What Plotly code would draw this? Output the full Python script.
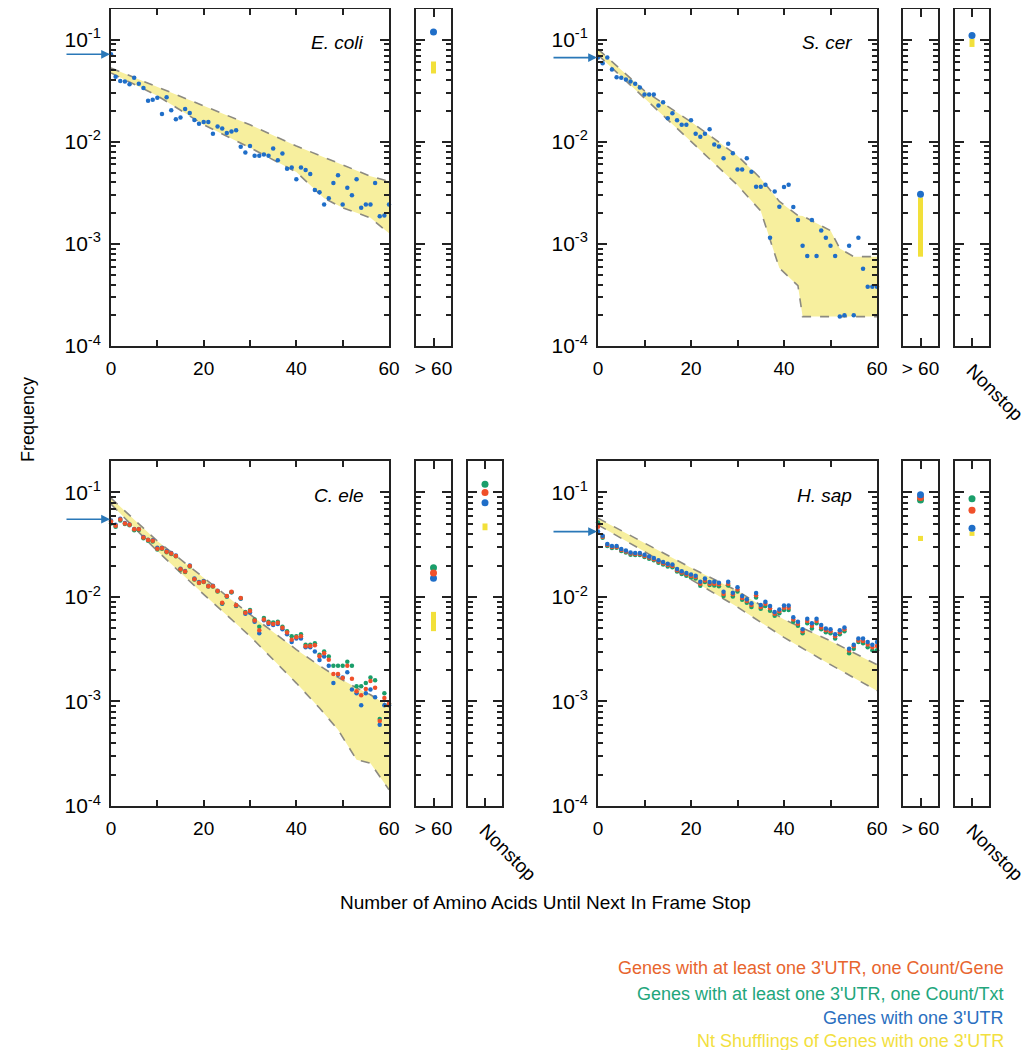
import math
import plotly.graph_objects as go

# ---------------- data ----------------
aa_len = list(range(0, 61))

ecoli_one = [0.072, 0.0434, 0.0394, 0.039, 0.0366, 0.0424, 0.037, 0.0336, 0.0252, 0.0258,
             0.027, 0.0187, 0.0273, 0.0204, 0.0166, 0.0173, 0.021, 0.0192, 0.0164, 0.015,
             0.0156, 0.0156, 0.012, 0.0141, 0.0135, 0.0122, 0.0126, 0.013, 0.00896, 0.00785,
             0.0091, 0.0073, 0.0073, 0.0075, 0.0073, 0.0086, 0.0066, 0.0077, 0.00545, 0.0056,
             0.0043, 0.0056, 0.0053, 0.00484, 0.00338, 0.0032, 0.00243, 0.0028, 0.00395, 0.0047,
             0.00243, 0.00355, 0.003, 0.0043, 0.00226, 0.00243, 0.00243, 0.00395, 0.00187, 0.0019,
             0.00243]

scer_one = [0.0668, 0.059, 0.0668, 0.051, 0.043, 0.0424, 0.0408, 0.039, 0.0371, 0.034,
            0.029, 0.029, 0.029, 0.0227, 0.0244, 0.017, 0.019, 0.0163, 0.0147, 0.0147,
            0.0163, 0.012, 0.0112, 0.012, 0.0133, 0.00944, 0.009, 0.00689, 0.0096, 0.00774,
            0.00537, 0.00537, 0.0069, 0.0051, 0.00363, 0.00363, 0.0038, 0.00115, 0.00326, 0.00231,
            0.0036, 0.0038, 0.0023, 0.00171, 0.000957, 0.00076, 0.00171, 0.00076, 0.00135, 0.00115,
            0.00096, 0.00076, 0.000194, 0.0002, 0.00096, 0.0002, 0.00115, 0.00057, 0.00038, 0.00038,
            0.00038]

cele_gene = [0.0527, 0.048, 0.055, 0.0505, 0.049, 0.0444, 0.0444, 0.037, 0.035, 0.0345,
             0.029, 0.0292, 0.0271, 0.026, 0.0247, 0.0184, 0.0175, 0.0198, 0.0148, 0.0137,
             0.014, 0.0127, 0.0127, 0.0114, 0.0088, 0.0102, 0.0112, 0.00835, 0.0098, 0.00707,
             0.00733, 0.00596, 0.0048, 0.0061, 0.00566, 0.0055, 0.00566, 0.00507, 0.00456, 0.0039,
             0.00412, 0.0042, 0.00338, 0.0034, 0.00345, 0.00271, 0.0029, 0.00251, 0.00183, 0.00183,
             0.00168, 0.0022, 0.00165, 0.00125, 0.00115, 0.00132, 0.00157, 0.00135, 0.00065, 0.00108,
             0.00095]
cele_txt = [0.0505, 0.047, 0.054, 0.05, 0.0485, 0.0435, 0.0438, 0.0365, 0.0345, 0.034,
            0.0285, 0.029, 0.0268, 0.0258, 0.0245, 0.0182, 0.0173, 0.0196, 0.0147, 0.0136,
            0.0139, 0.0126, 0.0126, 0.0113, 0.0087, 0.0101, 0.0111, 0.0083, 0.0097, 0.0072,
            0.0075, 0.0061, 0.0052, 0.0063, 0.0058, 0.0057, 0.0058, 0.0052, 0.0047, 0.0042,
            0.0042, 0.0044, 0.0035, 0.0035, 0.0036, 0.0028, 0.003, 0.0027, 0.0022, 0.0022,
            0.0022, 0.0024, 0.0022, 0.0014, 0.0014, 0.0015, 0.0017, 0.0016, 0.00068, 0.0012,
            0.00095]
cele_one = [0.054, 0.049, 0.056, 0.051, 0.0495, 0.0448, 0.0446, 0.0375, 0.0352, 0.0348,
            0.0295, 0.0296, 0.0275, 0.0263, 0.025, 0.0186, 0.0177, 0.02, 0.015, 0.0139,
            0.0142, 0.0128, 0.0128, 0.0115, 0.0086, 0.0101, 0.0111, 0.0082, 0.0096, 0.0069,
            0.0071, 0.0058, 0.0045, 0.006, 0.0055, 0.0054, 0.0055, 0.0049, 0.0044, 0.0037,
            0.004, 0.004, 0.0033, 0.0033, 0.003, 0.0025, 0.0027, 0.0022, 0.0015, 0.0018,
            0.0017, 0.0019, 0.0013, 0.0012, 0.00092, 0.0012, 0.0013, 0.0011, 0.0006, 0.00092,
            0.00092]

hsap_gene = [0.0469, 0.0376, 0.0315, 0.0301, 0.0301, 0.0282, 0.0272, 0.026, 0.0258, 0.0258,
             0.0247, 0.0238, 0.023, 0.0218, 0.021, 0.0202, 0.0198, 0.018, 0.0171, 0.0165,
             0.0159, 0.0155, 0.0134, 0.0144, 0.0134, 0.0134, 0.0132, 0.0107, 0.0134, 0.0106,
             0.0118, 0.0098, 0.00914, 0.00836, 0.0104, 0.008, 0.0086, 0.0078, 0.0069, 0.0073,
             0.0079, 0.0079, 0.0061, 0.00553, 0.00471, 0.0059, 0.0053, 0.0059, 0.0051, 0.0048,
             0.0047, 0.00422, 0.0046, 0.0049, 0.00307, 0.00338, 0.00383, 0.0038, 0.00351, 0.0033,
             0.0034]
hsap_txt = [0.0515, 0.0368, 0.0308, 0.0294, 0.0295, 0.0276, 0.0266, 0.0254, 0.0252, 0.0252,
            0.0241, 0.0232, 0.0224, 0.0212, 0.0204, 0.0196, 0.0192, 0.0175, 0.0166, 0.016,
            0.0154, 0.015, 0.0128, 0.0139, 0.013, 0.0129, 0.0127, 0.0102, 0.0129, 0.0101,
            0.0113, 0.0094, 0.0088, 0.008, 0.0099, 0.0077, 0.0082, 0.0074, 0.0066, 0.007,
            0.0075, 0.0075, 0.0058, 0.0053, 0.0045, 0.0056, 0.005, 0.0056, 0.0049, 0.0046,
            0.0045, 0.004, 0.0044, 0.0047, 0.0029, 0.0032, 0.0037, 0.0036, 0.0033, 0.0031,
            0.0031]
hsap_one = [0.0422, 0.0385, 0.0322, 0.0308, 0.0307, 0.0288, 0.0278, 0.0266, 0.0264, 0.0264,
            0.0253, 0.0244, 0.0236, 0.0224, 0.0216, 0.0208, 0.0204, 0.0185, 0.0176, 0.017,
            0.0164, 0.016, 0.014, 0.015, 0.0139, 0.014, 0.0137, 0.0112, 0.014, 0.011,
            0.0124, 0.0102, 0.0095, 0.0087, 0.0109, 0.0084, 0.009, 0.0082, 0.0072, 0.0076,
            0.0083, 0.0083, 0.0064, 0.0058, 0.0049, 0.0062, 0.0056, 0.0062, 0.0054, 0.005,
            0.0049, 0.0044, 0.0048, 0.0051, 0.0032, 0.0035, 0.004, 0.004, 0.0037, 0.0035,
            0.0037]

# shuffled band (lower / upper bounds)
ecoli_band_x = [0, 10, 20, 30, 40, 46, 50, 56, 60]
ecoli_band_lo = [0.0473, 0.0283, 0.0147, 0.00877, 0.00506, 0.0028, 0.00226, 0.0018, 0.00127]
ecoli_band_hi = [0.0528, 0.0345, 0.0226, 0.0147, 0.0091, 0.0070, 0.0059, 0.0046, 0.0041]

scer_band_x = [0, 10, 20, 30, 35, 39, 43, 44, 50, 52, 55, 60]
scer_band_lo = [0.071, 0.0269, 0.0101, 0.00376, 0.0021, 0.00058, 0.00039, 0.000194, 0.000194, 0.000194, 0.000194, 0.000194]
scer_band_hi = [0.081, 0.0316, 0.0157, 0.0073, 0.00437, 0.00261, 0.0019, 0.00188, 0.00135, 0.0009, 0.00075, 0.00075]

cele_band_x = [0, 10, 20, 30, 40, 45, 49, 53, 56, 60]
cele_band_lo = [0.0773, 0.0275, 0.0106, 0.00422, 0.0015, 0.000865, 0.000537, 0.000277, 0.000257, 0.000143]
cele_band_hi = [0.0883, 0.0343, 0.0153, 0.0068, 0.00314, 0.0022, 0.0017, 0.00135, 0.00116, 0.0009]

hsap_band_x = [0, 10, 20, 30, 40, 50, 60]
hsap_band_lo = [0.0489, 0.0272, 0.0147, 0.008, 0.0041, 0.00225, 0.00127]
hsap_band_hi = [0.0568, 0.033, 0.019, 0.0114, 0.0061, 0.0038, 0.00225]

# >60 and Nonstop summary values: dots and shuffled range
ecoli_gt60_one = 0.119
ecoli_gt60_shuf = [0.0467, 0.0612]

scer_gt60_one = 0.00307
scer_gt60_shuf = [0.00075, 0.00285]
scer_nonstop_one = 0.11
scer_nonstop_shuf = [0.085, 0.102]

cele_gt60 = {"gene": 0.017, "txt": 0.019, "one": 0.0151}
cele_gt60_shuf = [0.00471, 0.0072]
cele_nonstop = {"gene": 0.1, "txt": 0.12, "one": 0.0796}
cele_nonstop_shuf = [0.0435, 0.0505]

hsap_gt60 = {"gene": 0.0895, "txt": 0.0845, "one": 0.095}
hsap_gt60_shuf = [0.0343, 0.0384]
hsap_nonstop = {"gene": 0.0677, "txt": 0.087, "one": 0.0455}
hsap_nonstop_shuf = [0.0384, 0.0422]

# arrows mark expected frequency at 0
arrow_values = {"ecoli": 0.072, "scer": 0.0668, "cele": 0.0555, "hsap": 0.0422}

species_labels = ["E. coli", "S. cer", "C. ele", "H. sap"]
legend_labels = ["Genes with at least one 3'UTR, one Count/Gene",
                 "Genes with at least one 3'UTR, one Count/Txt",
                 "Genes with one 3'UTR",
                 "Nt Shufflings of Genes with one 3'UTR"]
x_tick_vals = [0, 10, 20, 30, 40, 50, 60]
x_tick_text = ["0", "", "20", "", "40", "", "60"]
y_tick_vals = [1e-4, 1e-3, 1e-2, 1e-1]
y_tick_text = ["10<sup>-4</sup>", "10<sup>-3</sup>", "10<sup>-2</sup>", "10<sup>-1</sup>"]

# ---------------- style ----------------
OFF = 8                      # page body margin of the html page
W, H = 1031 - OFF, 1050 - OFF
FONT = "Liberation Sans, Arial, sans-serif"
C_BLUE = "#1f6ec8"
C_RED = "#f0502a"
C_GREEN = "#1a9e6a"
C_YEL = "#f2e03a"
C_BAND = "#f7ef9e"
C_EDGE = "#8c8a80"
C_AX = "#222222"
C_ARROW = "#2a78b8"
LEG_COLORS = ["#e8652e", "#22a67c", "#2a6fc0", "#f2e040"]

def px_x(a, b):
    return [(a - OFF) / W, (b - OFF) / W]

def px_y(top, bottom):
    return [1 - (bottom - OFF) / H, 1 - (top - OFF) / H]

def paper_x(a):
    return (a - OFF) / W

def paper_y(b):
    return 1 - (b - OFF) / H

row_top = px_y(OFF + 1, 346)
row_bot = px_y(461, 806)
col_main_L = px_x(111, 389)
col_gt_L = px_x(416, 451)
col_ns_L = px_x(468, 502)
col_main_R = px_x(598, 877)
col_gt_R = px_x(903, 938)
col_ns_R = px_x(955, 989)

minor_vals = [k * 10 ** e for e in range(-4, 0) for k in range(2, 10) if k * 10 ** e <= 0.2]
YR = [-4, math.log10(0.2)]

fig = go.Figure()
layout = dict(template="none", width=W, height=H, margin=dict(l=0, r=0, t=0, b=0, pad=0),
              autosize=False,
              paper_bgcolor="white", plot_bgcolor="white", showlegend=False,
              font=dict(family=FONT, size=17, color="black"))

def add_axes(n, xdom, ydom, kind):
    xs = "xaxis" if n == 1 else f"xaxis{n}"
    ys = "yaxis" if n == 1 else f"yaxis{n}"
    yid = "y" if n == 1 else f"y{n}"
    common = dict(showline=True, linecolor=C_AX, linewidth=1.8, mirror="ticks",
                  ticks="inside", tickcolor=C_AX, showgrid=False, zeroline=False,
                  fixedrange=True, automargin=False)
    yax = dict(common, domain=ydom, anchor=f"x{n}", type="log", range=YR,
               tickmode="array", tickvals=y_tick_vals, ticklen=9, tickwidth=1.8,
               minor=dict(tickmode="array", tickvals=minor_vals, ticks="inside",
                          ticklen=5, tickcolor=C_AX, tickwidth=1.5, showgrid=False))
    if kind == "main":
        yax.update(ticktext=y_tick_text, showticklabels=True,
                   tickfont=dict(size=21, family=FONT), ticklabelstandoff=4)
        xax = dict(common, domain=xdom, anchor=yid, range=[0, 60],
                   tickmode="array", tickvals=x_tick_vals, ticktext=x_tick_text,
                   ticklen=6, tickwidth=1.8, tickfont=dict(size=19, family=FONT),
                   ticklabelstandoff=4)
    else:
        yax.update(showticklabels=False)
        lab = "> 60" if kind == "gt" else "Nonstop"
        xax = dict(common, domain=xdom, anchor=yid, range=[-1, 1],
                   tickmode="array", tickvals=[0], ticktext=[lab],
                   ticklen=8, tickwidth=1.8, tickfont=dict(size=19, family=FONT),
                   tickangle=0 if kind == "gt" else 45, ticklabelstandoff=4)
    layout[xs] = xax
    layout[ys] = yax

panels = [
    (1, col_main_L, row_top, "main"), (2, col_gt_L, row_top, "gt"),
    (3, col_main_R, row_top, "main"), (4, col_gt_R, row_top, "gt"), (5, col_ns_R, row_top, "ns"),
    (6, col_main_L, row_bot, "main"), (7, col_gt_L, row_bot, "gt"), (8, col_ns_L, row_bot, "ns"),
    (9, col_main_R, row_bot, "main"), (10, col_gt_R, row_bot, "gt"), (11, col_ns_R, row_bot, "ns"),
]
for p in panels:
    add_axes(*p)

def ax(n):
    return ("x" if n == 1 else f"x{n}"), ("y" if n == 1 else f"y{n}")

def add_band(n, bx, lo, hi):
    xa, ya = ax(n)
    fig.add_trace(go.Scatter(x=bx, y=lo, mode="lines", xaxis=xa, yaxis=ya,
                             line=dict(color=C_EDGE, width=1.6, dash="dash"), hoverinfo="skip"))
    fig.add_trace(go.Scatter(x=bx, y=hi, mode="lines", xaxis=xa, yaxis=ya, fill="tonexty",
                             fillcolor=C_BAND, line=dict(color=C_EDGE, width=1.6, dash="dash"),
                             hoverinfo="skip"))

def add_dots(n, xs, ys, color, size=4.5):
    xa, ya = ax(n)
    fig.add_trace(go.Scatter(x=xs, y=ys, mode="markers", xaxis=xa, yaxis=ya, cliponaxis=False,
                             marker=dict(color=color, size=size, line=dict(width=0))))

def add_bar(n, rng):
    xa, ya = ax(n)
    fig.add_trace(go.Scatter(x=[0, 0], y=rng, mode="lines", xaxis=xa, yaxis=ya,
                             line=dict(color=C_YEL, width=5), hoverinfo="skip"))

# E. coli
add_band(1, ecoli_band_x, ecoli_band_lo, ecoli_band_hi)
add_dots(1, aa_len, ecoli_one, C_BLUE)
add_bar(2, ecoli_gt60_shuf)
add_dots(2, [0], [ecoli_gt60_one], C_BLUE, 7)

# S. cer
add_band(3, scer_band_x, scer_band_lo, scer_band_hi)
add_dots(3, aa_len, scer_one, C_BLUE)
add_bar(4, scer_gt60_shuf)
add_dots(4, [0], [scer_gt60_one], C_BLUE, 7)
add_bar(5, scer_nonstop_shuf)
add_dots(5, [0], [scer_nonstop_one], C_BLUE, 7)

# C. ele
add_band(6, cele_band_x, cele_band_lo, cele_band_hi)
add_dots(6, aa_len, cele_one, C_BLUE)
add_dots(6, aa_len, cele_txt, C_GREEN)
add_dots(6, aa_len, cele_gene, C_RED)
for n, d, shuf in [(7, cele_gt60, cele_gt60_shuf), (8, cele_nonstop, cele_nonstop_shuf)]:
    add_bar(n, shuf)
    add_dots(n, [0], [d["one"]], C_BLUE, 7)
    add_dots(n, [0], [d["txt"]], C_GREEN, 7)
    add_dots(n, [0], [d["gene"]], C_RED, 7)

# H. sap
add_band(9, hsap_band_x, hsap_band_lo, hsap_band_hi)
add_dots(9, aa_len, hsap_txt, C_GREEN)
add_dots(9, aa_len, hsap_gene, C_RED)
add_dots(9, aa_len, hsap_one, C_BLUE)
for n, d, shuf in [(10, hsap_gt60, hsap_gt60_shuf), (11, hsap_nonstop, hsap_nonstop_shuf)]:
    add_bar(n, shuf)
    add_dots(n, [0], [d["txt"]], C_GREEN, 7)
    add_dots(n, [0], [d["gene"]], C_RED, 7)
    add_dots(n, [0], [d["one"]], C_BLUE, 7)

annotations = []
# arrows and species labels
for n, key, lab in [(1, "ecoli", species_labels[0]), (3, "scer", species_labels[1]),
                    (6, "cele", species_labels[2]), (9, "hsap", species_labels[3])]:
    xa, ya = ax(n)
    annotations.append(dict(x=0, y=math.log10(arrow_values[key]), xref=xa, yref=ya,
                            showarrow=True, ax=-46, ay=0, axref="pixel", ayref="pixel",
                            arrowhead=2, arrowsize=1.1, arrowwidth=1.6, arrowcolor=C_ARROW,
                            text="", standoff=1))
    annotations.append(dict(x=55, y=-1.03, xref=xa, yref=ya, text=f"<i>{lab}</i>",
                            showarrow=False, xanchor="right", yanchor="middle",
                            font=dict(size=19, family=FONT, color="black")))

annotations.append(dict(x=paper_x(16), y=paper_y(420), xref="paper", yref="paper",
                        text="Frequency", textangle=-90, showarrow=False,
                        font=dict(size=18, family=FONT)))
annotations.append(dict(x=paper_x(545), y=paper_y(915), xref="paper", yref="paper",
                        text="Number of Amino Acids Until Next In Frame Stop",
                        showarrow=False, font=dict(size=19, family=FONT)))
for i, (txt, col) in enumerate(zip(legend_labels, LEG_COLORS)):
    ypx = [968, 994, 1018, 1041][i]
    annotations.append(dict(x=paper_x(1006), y=paper_y(ypx), xref="paper", yref="paper",
                            text=txt, showarrow=False, xanchor="right", yanchor="middle",
                            font=dict(size=18, family=FONT, color=col)))

layout["annotations"] = annotations
fig.update_layout(**layout)
fig.write_html("out.html", config={"responsive": False})
